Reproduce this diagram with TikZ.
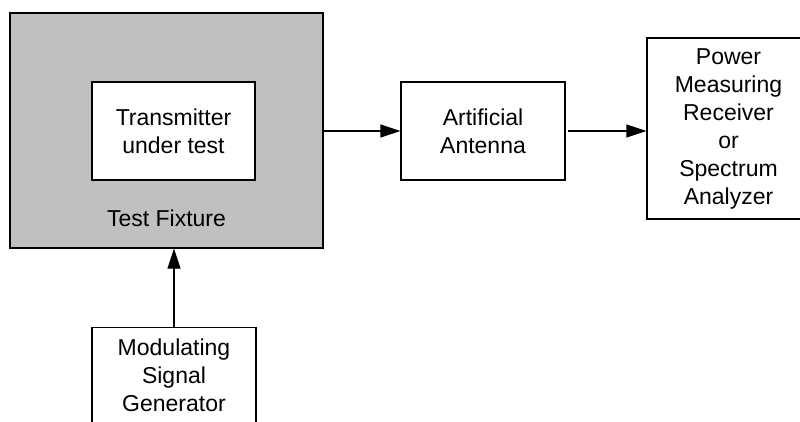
\documentclass[tikz,border=0pt]{standalone}
\usepackage{fontspec}
\setmainfont{Liberation Sans}
\usetikzlibrary{arrows.meta,calc}
\definecolor{fixgray}{HTML}{C0C0C0}
\begin{document}
\begin{tikzpicture}[x=1pt,y=-1pt,
  box/.style={draw=black,line width=1.3pt,fill=white,align=center,inner sep=0pt,
    font=\fontsize{23}{28}\selectfont},
  lbl/.style={align=center,inner sep=0pt,font=\fontsize{23}{28}\selectfont},
  arr/.style={line width=1.3pt,-{Triangle[length=20pt,width=13pt]}}]
\useasboundingbox (0,0) rectangle (800,421);
\clip (0,0) rectangle (800,421);
\fill[white] (0,0) rectangle (800,421);
% test fixture
\node[box,fill=fixgray,minimum width=313pt,minimum height=235pt] (fix) at (166.5,130.5) {};
\node[box,minimum width=163pt,minimum height=98pt] (tx) at (173.5,131) {Transmitter\\under test};
\node[lbl] (fixlbl) at (166.5,218) {Test Fixture};
% antenna
\node[box,minimum width=164pt,minimum height=98pt] (ant) at (483,131) {Artificial\\Antenna};
% power measuring receiver
\node[box,minimum width=163pt,minimum height=181pt] (pow) at (728.5,128.5)
  {Power\\Measuring\\Receiver\\or\\Spectrum\\Analyzer};
% modulating signal generator
\node[box,anchor=north,minimum width=164pt,inner ysep=11pt] (mod) at (174,327)
  {Modulating\\Signal\\Generator};
% connectors
\draw[arr] (fix.east |- tx.center) -- (ant.west);
\draw[arr,shorten <=2pt] (ant.east) -- (ant.east -| pow.west);
\draw[arr] (mod.north) -- (mod.north |- fix.south);
\end{tikzpicture}
\end{document}
